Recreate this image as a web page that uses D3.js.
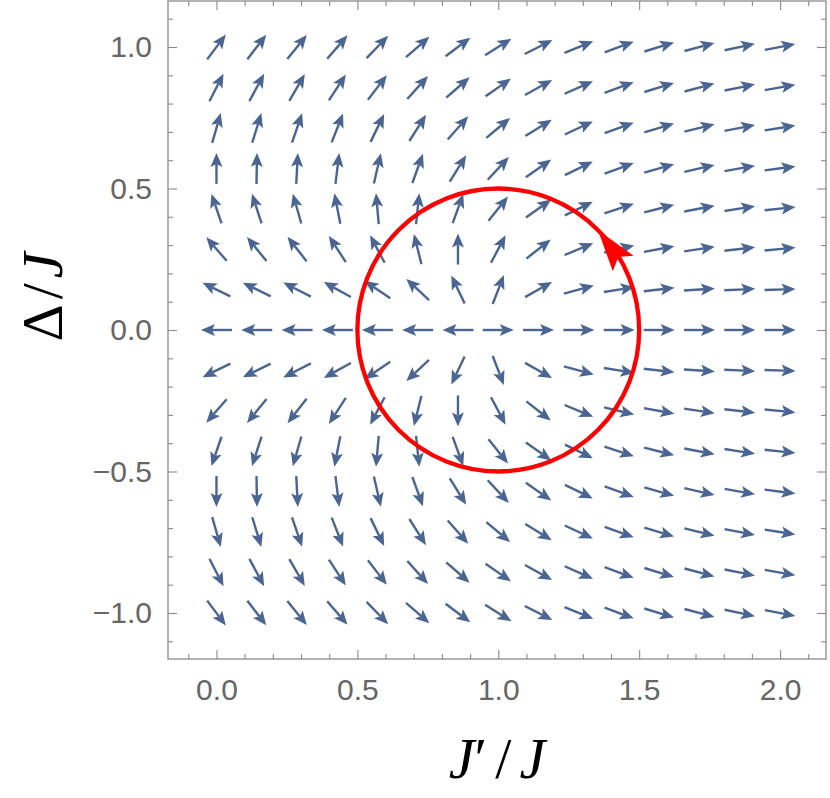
<!DOCTYPE html>
<html><head><meta charset="utf-8">
<script src="https://cdn.jsdelivr.net/npm/d3@7"></script>
<style>body{margin:0;background:#fff}</style>
</head><body>
<svg id="chart" width="830" height="798"></svg>
<script>
// ---- data ----
const xGrid = [0, 0.143, 0.286, 0.429, 0.571, 0.714, 0.857, 1.0, 1.143, 1.286, 1.429, 1.571, 1.714, 1.857, 2.0];
const yGrid = [1.0, 0.857, 0.714, 0.571, 0.429, 0.286, 0.143, 0.0, -0.143, -0.286, -0.429, -0.571, -0.714, -0.857, -1.0];
// arrow direction (degrees, counter-clockwise from +x), one row per yGrid value
const arrowAngles = [
  [53, 52.5, 51, 49, 46, 41, 37, 32, 27, 22, 20, 17, 15, 12, 11],
  [63, 61.5, 60, 57, 52.5, 48, 41, 35, 29, 24, 20, 17, 15, 11.5, 10],
  [74, 73, 71, 68.5, 64, 57.5, 48.5, 40, 31.5, 25, 20, 16.5, 13.5, 11, 9],
  [90, 89, 87, 83, 77, 70, 58, 47, 35, 26, 20, 15.5, 13, 10, 7.5],
  [109, 108, 106, 101, 95, 84, 70, 51, 35.5, 26, 18, 14, 11, 9, 6],
  [131, 129, 128, 123, 118, 104, 90, 62, 38, 22.5, 13.5, 10.5, 8.5, 6.5, 5.5],
  [154, 154, 153, 151, 146, 137, 115.5, 69, 29.5, 15, 9, 6.5, 3.5, 2.5, 2],
  [180, 180, 180, 180, 180, 180, 180, 0, 0, 0, 0, 0, 0, 0, 0],
  [206, 206, 207, 209, 214, 223, 244.5, 291, 330.5, 345, 351, 353.5, 356.5, 357.5, 358],
  [229, 231, 232, 237, 242, 256, 270, 298, 322, 337.5, 346.5, 349.5, 351.5, 353.5, 354.5],
  [251, 252, 254, 259, 265, 276, 290, 309, 324.5, 334, 342, 346, 349, 351, 354],
  [270, 271, 273, 277, 283, 290, 302, 313, 325, 334, 340, 344.5, 347, 350, 352.5],
  [286, 287, 289, 291.5, 296, 302.5, 311.5, 320, 328.5, 335, 340, 343.5, 346.5, 349, 351],
  [297, 298.5, 300, 303, 307.5, 312, 319, 325, 331, 336, 340, 343, 345, 348.5, 350],
  [307, 307.5, 309, 311, 314, 319, 323, 328, 333, 338, 340, 343, 345, 348, 349]
];
const xTickValues = [0, 0.5, 1.0, 1.5, 2.0];
const xTickLabels = ["0.0", "0.5", "1.0", "1.5", "2.0"];
const yTickValues = [-1.0, -0.5, 0.0, 0.5, 1.0];
const yTickLabels = ["\u22121.0", "\u22120.5", "0.0", "0.5", "1.0"];
const xMinorTicks = [-0.1,0.1,0.2,0.3,0.4,0.6,0.7,0.8,0.9,1.1,1.2,1.3,1.4,1.6,1.7,1.8,1.9,2.1];
const yMinorTicks = [-1.1,-0.9,-0.8,-0.7,-0.6,-0.4,-0.3,-0.2,-0.1,0.1,0.2,0.3,0.4,0.6,0.7,0.8,0.9,1.1];
const circleCenter = [1.0, 0.0];
const circleRadius = 0.5;
const circleArrowTipDeg = 45;
const circleArrowMidDeg = 37;

// ---- layout ----
const svg = d3.select("#chart");
const L = 168, R = 826, T = 1, B = 659;
const x = d3.scaleLinear().domain([-0.172, 2.163]).range([L, R]);
const y = d3.scaleLinear().domain([-1.1625, 1.1625]).range([B, T]);
const frameColor = "#8a8a8a", labelColor = "#666666";
const arrowColor = "#4a6591";

// ---- arrows ----
const arrowLen = 31, headLen = 14, headHalf = 6, notch = 3;
const g = svg.append("g");
yGrid.forEach((yv, j) => {
  xGrid.forEach((xv, i) => {
    const a = arrowAngles[j][i] * Math.PI / 180;
    const ux = Math.cos(a), uy = -Math.sin(a);
    const cx = x(xv), cy = y(yv);
    const tx = cx + ux * arrowLen / 2, ty = cy + uy * arrowLen / 2;
    const sx = cx - ux * arrowLen / 2, sy = cy - uy * arrowLen / 2;
    const bx = tx - ux * headLen, by = ty - uy * headLen;
    const px = -uy, py = ux;
    g.append("line")
      .attr("x1", sx).attr("y1", sy)
      .attr("x2", bx + ux * notch).attr("y2", by + uy * notch)
      .attr("stroke", arrowColor).attr("stroke-width", 2.4);
    g.append("path")
      .attr("d", `M${tx},${ty}L${bx + px * headHalf},${by + py * headHalf}L${bx + ux * notch},${by + uy * notch}L${bx - px * headHalf},${by - py * headHalf}Z`)
      .attr("fill", arrowColor);
  });
});

// ---- red circle ----
svg.append("ellipse")
  .attr("cx", x(circleCenter[0])).attr("cy", y(circleCenter[1]))
  .attr("rx", x(circleCenter[0] + circleRadius) - x(circleCenter[0]))
  .attr("ry", y(circleCenter[1]) - y(circleCenter[1] + circleRadius))
  .attr("fill", "none").attr("stroke", "#ff0000").attr("stroke-width", 4.3);
{
  const t = circleArrowTipDeg * Math.PI / 180, m = circleArrowMidDeg * Math.PI / 180;
  const tx = x(circleCenter[0] + circleRadius * Math.cos(t));
  const ty = y(circleCenter[1] + circleRadius * Math.sin(t));
  const ux = -Math.sin(m), uy = -Math.cos(m);
  const hl = 42, hw = 13, nd = 8;
  const bx = tx - ux * hl, by = ty - uy * hl;
  const px = -uy, py = ux;
  svg.append("path")
    .attr("d", `M${tx},${ty}L${bx + px * hw},${by + py * hw}L${bx + ux * nd},${by + uy * nd}L${bx - px * hw},${by - py * hw}Z`)
    .attr("fill", "#ff0000");
}

// ---- frame & axes ----
svg.append("rect").attr("x", L).attr("y", T).attr("width", R - L).attr("height", B - T)
  .attr("fill", "none").attr("stroke", frameColor).attr("stroke-width", 1.3);

function styleAxis(sel) {
  sel.select(".domain").remove();
  sel.selectAll("line").attr("stroke", frameColor).attr("stroke-width", 1.1);
  sel.selectAll("text").attr("fill", labelColor)
    .style("font-family", "'Liberation Sans', Arial, sans-serif").style("font-size", "30px");
}
const xFmt = d => xTickLabels[xTickValues.indexOf(d)];
const yFmt = d => yTickLabels[yTickValues.indexOf(d)];
svg.append("g").attr("transform", `translate(0,${B})`)
  .call(d3.axisBottom(x).tickValues(xTickValues).tickFormat(xFmt).tickSize(-9).tickPadding(20)).call(styleAxis);
svg.append("g").attr("transform", `translate(0,${B})`)
  .call(d3.axisBottom(x).tickValues(xMinorTicks).tickFormat("").tickSize(-5)).call(styleAxis);
svg.append("g").attr("transform", `translate(0,${T})`)
  .call(d3.axisTop(x).tickValues(xTickValues).tickFormat("").tickSize(-9)).call(styleAxis);
svg.append("g").attr("transform", `translate(0,${T})`)
  .call(d3.axisTop(x).tickValues(xMinorTicks).tickFormat("").tickSize(-5)).call(styleAxis);
svg.append("g").attr("transform", `translate(${L},0)`)
  .call(d3.axisLeft(y).tickValues(yTickValues).tickFormat(yFmt).tickSize(-9).tickPadding(16)).call(styleAxis);
svg.append("g").attr("transform", `translate(${L},0)`)
  .call(d3.axisLeft(y).tickValues(yMinorTicks).tickFormat("").tickSize(-5)).call(styleAxis);
svg.append("g").attr("transform", `translate(${R},0)`)
  .call(d3.axisRight(y).tickValues(yTickValues).tickFormat("").tickSize(-9)).call(styleAxis);
svg.append("g").attr("transform", `translate(${R},0)`)
  .call(d3.axisRight(y).tickValues(yMinorTicks).tickFormat("").tickSize(-5)).call(styleAxis);

// ---- axis titles ----
const serif = "'Liberation Serif', 'Times New Roman', serif";
const xt = svg.append("text").attr("x", (L + R) / 2).attr("y", 778).attr("text-anchor", "middle")
  .style("font-family", serif).style("font-size", "58px").attr("fill", "#000");
xt.append("tspan").style("font-style", "italic").text("J");
xt.append("tspan").text("\u2032");
xt.append("tspan").attr("dx", 8).text("/");
xt.append("tspan").attr("dx", 8).style("font-style", "italic").text("J");

const yt = svg.append("text").attr("transform", `translate(62,297) rotate(-90)`)
  .attr("text-anchor", "middle")
  .style("font-family", serif).style("font-size", "58px").attr("fill", "#000");
yt.append("tspan").text("\u0394");
yt.append("tspan").attr("dx", 5).text("/");
yt.append("tspan").attr("dx", 5).style("font-style", "italic").text("J");
</script>
</body></html>
